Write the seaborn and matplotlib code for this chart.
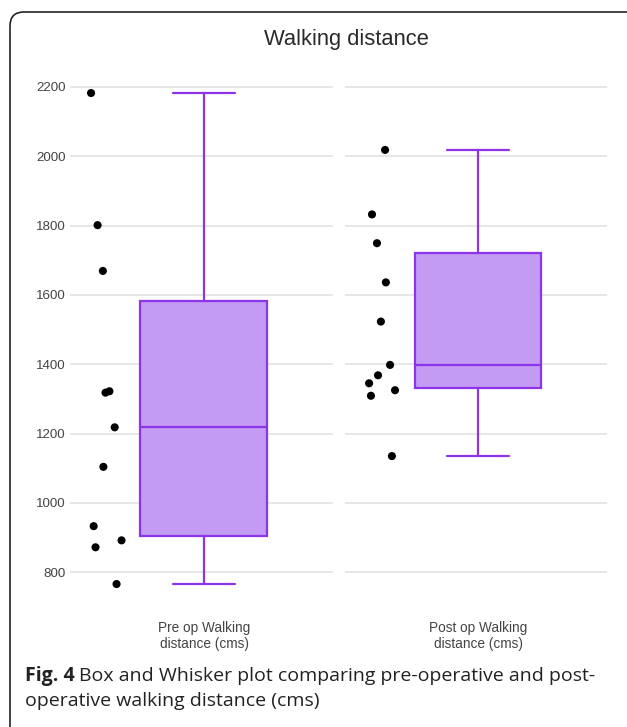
import matplotlib
matplotlib.use("Agg")
import matplotlib.pyplot as plt
from matplotlib.patches import FancyBboxPatch
import seaborn as sns
import numpy as np

# values
pre_values = [2182, 1801, 1669, 1318, 1322, 1218, 1104, 933, 892, 872, 766]
post_values = [2018, 1832, 1749, 1636, 1523, 1398, 1368, 1345, 1325, 1309, 1135]

# box stats: whisker low, q1, median, q3, whisker high
pre_box = [766, 904, 1219, 1583, 2182]
post_box = [1135, 1331, 1398, 1721, 2018]

categories = ["Pre op Walking\ndistance (cms)", "Post op Walking\ndistance (cms)"]
y_ticks = [800, 1000, 1200, 1400, 1600, 1800, 2000, 2200]

# horizontal jitter of the points (plotly style, left of the box)
pointpos = -0.36
pre_jitter = [-0.06, -0.035, -0.015, -0.005, 0.01, 0.03, -0.013, -0.05, 0.056, -0.043, 0.037]
post_jitter = [0.013, -0.037, -0.018, 0.016, -0.003, 0.032, -0.014, -0.048, 0.051, -0.041, 0.039]

EDGE = "#8d33ea"
FILL = "#c49bf3"
GRID = "#e3e3e3"
TXT = "#444444"

sns.set_theme(style="white")
plt.rcParams["font.family"] = ["Liberation Sans", "DejaVu Sans"]

W, H = 627, 727
fig = plt.figure(figsize=(W / 100, H / 100), dpi=100)

ymin, ymax = 720, 2260
ax_bottom = 1 - 600 / H
ax_height = 534 / H
panels = [
    (70, 263, pre_values, pre_box, pre_jitter, categories[0]),
    (345, 262, post_values, post_box, post_jitter, categories[1]),
]

for i, (left, width, vals, box, jit, label) in enumerate(panels):
    ax = fig.add_axes([left / W, ax_bottom, width / W, ax_height])
    ax.set_xlim(-0.5, 0.5)
    ax.set_ylim(ymin, ymax)
    ax.set_yticks(y_ticks)
    for y in y_ticks:
        ax.axhline(y, color=GRID, lw=1.2, zorder=0)

    stats = [dict(whislo=box[0], q1=box[1], med=box[2], q3=box[3],
                  whishi=box[4], fliers=[])]
    ax.bxp(stats, positions=[0.008], widths=[0.483], capwidths=[0.236],
           patch_artist=True, showfliers=False,
           boxprops=dict(facecolor=FILL, edgecolor=EDGE, linewidth=1.6),
           medianprops=dict(color=EDGE, linewidth=1.6),
           whiskerprops=dict(color=EDGE, linewidth=1.6),
           capprops=dict(color=EDGE, linewidth=1.6))

    xs = pointpos + np.array(jit)
    sns.scatterplot(x=xs, y=vals, ax=ax, color="black", s=34,
                    edgecolor="none", zorder=5)

    for s in ax.spines.values():
        s.set_visible(False)
    ax.set_xticks([])
    ax.tick_params(axis="y", length=0, pad=3, labelsize=9.6, labelcolor=TXT)
    if i > 0:
        ax.set_yticklabels([])
    fig.text((left + width * 0.51) / W, 1 - 636 / H, label, ha="center",
             va="center", fontsize=9.8, color=TXT, linespacing=1.2)

fig.text(346 / W, 1 - 39 / H, "Walking distance", ha="center", va="center",
         fontsize=15.8, color="#2a2a2a")

cap_font = ["Open Sans", "DejaVu Sans"]
cap_size = 14
t = fig.text(25 / W, 1 - 676 / H, "Fig. 4", ha="left", va="center",
             fontsize=cap_size, fontweight="bold", family=cap_font, color="#222222")
fig.canvas.draw()
bb = t.get_window_extent()
fig.text((bb.x1 + 4) / W, 1 - 676 / H,
         "Box and Whisker plot comparing pre-operative and post-",
         ha="left", va="center", fontsize=cap_size, family=cap_font, color="#222222")
fig.text(25 / W, 1 - 701 / H, "operative walking distance (cms)", ha="left",
         va="center", fontsize=cap_size, family=cap_font, color="#222222")

border = FancyBboxPatch((10, -30), 660, H - 12 + 30,
                        boxstyle="round,pad=0,rounding_size=14",
                        transform=None, facecolor="none", edgecolor="#222222",
                        linewidth=1.2)
fig.add_artist(border)

fig.savefig("out.png", dpi=100)
